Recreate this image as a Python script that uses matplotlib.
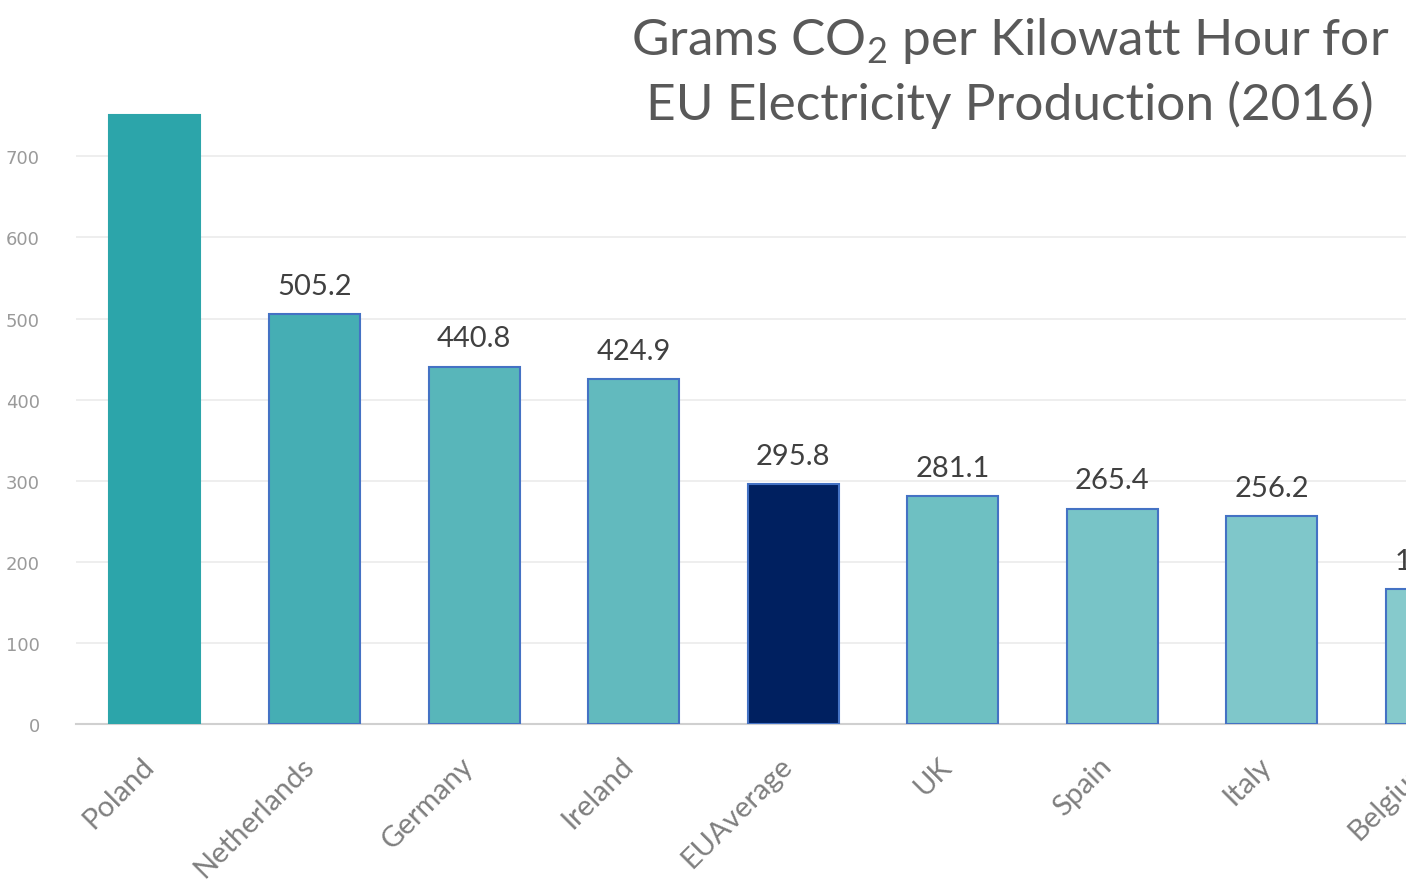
import matplotlib.pyplot as plt
from matplotlib import transforms

# data
countries = ['Poland', 'Netherlands', 'Germany', 'Ireland', 'EUAverage',
             'UK', 'Spain', 'Italy', 'Belgium']
grams_co2 = [751.0, 505.2, 440.8, 424.9, 295.8, 281.1, 265.4, 256.2, 166.0]
value_labels = ['', '505.2', '440.8', '424.9', '295.8', '281.1', '265.4', '256.2', '166.0']
bar_colors = ['#2CA5AA', '#45AEB4', '#58B6BA', '#62BABE', '#002060',
              '#6EC0C2', '#78C4C7', '#7FC7CA', '#86CACC']
edge_colors = ['#2CA5AA'] + ['#4472C4'] * 8
y_ticks = [0, 100, 200, 300, 400, 500, 600, 700]

plt.rcParams['font.family'] = ['Lato', 'DejaVu Sans']
plt.rcParams['mathtext.fontset'] = 'custom'
plt.rcParams['mathtext.rm'] = 'Lato'

fig = plt.figure(figsize=(14.06, 8.87), dpi=100)
ax = fig.add_axes([0.054, 0.1826, 0.946, 0.7315])

x = list(range(len(countries)))
ax.bar(x, grams_co2, width=0.57, color=bar_colors, edgecolor=edge_colors,
       linewidth=1.5, zorder=3)

for xi, v, lab in zip(x, grams_co2, value_labels):
    ax.text(xi, v + 19, lab, ha='center', va='bottom', fontsize=21,
            color='#404040', zorder=4, clip_on=True)

ax.set_ylim(0, 800)
ax.set_yticks(y_ticks)
ax.set_yticklabels([str(t) for t in y_ticks], fontsize=13, color='#9A9A9A',
                   family='DejaVu Sans')
ax.set_xticks(x)
ax.set_xticklabels([])
# set after the ticks, otherwise set_xticks widens the view
ax.set_xlim(-0.495, 7.84)

# rotated category labels, shifted a little left/down from each tick
offset = transforms.ScaledTranslation(-14 / 100, -28 / 100, fig.dpi_scale_trans)
for xi, name in zip(x, countries):
    ax.text(xi, 0, name, transform=ax.get_xaxis_transform() + offset,
            rotation=45, rotation_mode='anchor', ha='right', va='top',
            fontsize=21, color='#7F7F7F')

ax.tick_params(axis='both', length=0)
ax.tick_params(axis='y', pad=26)
ax.grid(axis='y', color='#EBEBEB', linewidth=1.2, zorder=0)
for side in ['top', 'right', 'left']:
    ax.spines[side].set_visible(False)
ax.spines['bottom'].set_color('#D0D0D0')
ax.spines['bottom'].set_linewidth(1.5)

fig.text(0.988, 0.982, 'Grams CO$_\\mathregular{2}$ per Kilowatt Hour for\nEU Electricity Production (2016)',
         ha='right', va='top', multialignment='center', fontsize=37,
         color='#595959', linespacing=1.37)

fig.savefig('out.png', dpi=100)
